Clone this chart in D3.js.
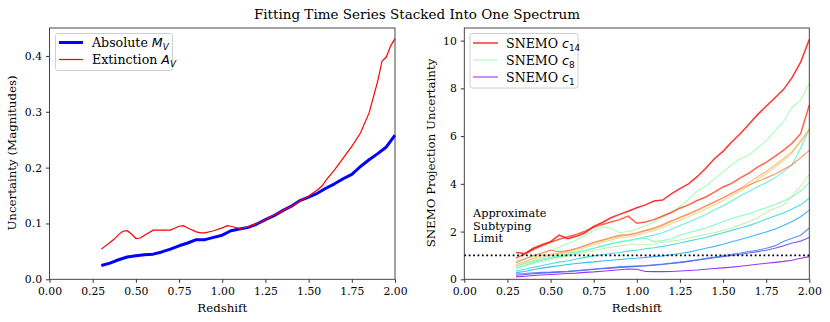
<!DOCTYPE html>
<html>
<head>
<script src="https://d3js.org/d3.v7.min.js"></script>
<style>
  body, html { margin: 0; background: #fff; }
  text { font-family: "DejaVu Serif", serif; fill: #000; }
  .tick text { font-size: 10.8px; }
  .tick line { stroke: #333; }
</style>
</head>
<body>
<div id="chart"></div>
<script>
// ---- left panel data
var zAbs = [0.30,0.35,0.40,0.45,0.50,0.55,0.60,0.65,0.70,0.75,0.80,0.85,0.90,0.95,1.00,1.05,1.10,1.15,1.20,1.25,
            1.30,1.35,1.40,1.45,1.50,1.55,1.60,1.65,1.70,1.75,1.80,1.85,1.90,1.95,2.00];
var absMV = [0.0246,0.029,0.035,0.040,0.042,0.044,0.045,0.049,0.054,0.060,0.065,0.071,0.071,0.075,0.079,0.087,0.090,0.093,0.099,0.107,
             0.114,0.123,0.131,0.141,0.147,0.154,0.163,0.171,0.180,0.188,0.202,0.214,0.225,0.237,0.258];
var zExt = [0.30,0.35,0.375,0.40,0.425,0.45,0.475,0.50,0.525,0.55,0.60,0.65,0.70,0.75,0.775,0.80,0.85,0.875,0.90,0.95,
            1.00,1.03,1.05,1.10,1.15,1.20,1.25,1.30,1.35,1.40,1.45,1.50,1.55,1.575,1.60,1.65,1.70,1.75,1.80,1.85,
            1.90,1.925,1.95,1.975,2.00];
var extAV = [0.054,0.066,0.072,0.080,0.086,0.087,0.081,0.073,0.074,0.079,0.088,0.088,0.088,0.095,0.096,0.092,0.085,0.083,0.083,0.087,
             0.092,0.096,0.095,0.091,0.094,0.100,0.107,0.115,0.123,0.131,0.140,0.149,0.160,0.166,0.177,0.196,0.217,0.238,0.262,0.298,
             0.355,0.391,0.398,0.418,0.431];
var leftXTicks = [0,0.25,0.5,0.75,1,1.25,1.5,1.75,2];
var leftYTicks = [0,0.1,0.2,0.3,0.4];

// ---- right panel data (SNEMO c1 .. c14)
var zSn = zAbs;
var snemo = [
  [0.10,0.13,0.16,0.18,0.20,0.22,0.24,0.26,0.29,0.31,0.34,0.37,0.40,0.43,0.42,0.33,0.32,0.32,0.33,0.35,
   0.37,0.39,0.42,0.45,0.48,0.51,0.55,0.59,0.63,0.67,0.71,0.75,0.80,0.88,0.95],
  [0.17,0.20,0.23,0.26,0.28,0.30,0.32,0.35,0.38,0.41,0.44,0.47,0.50,0.52,0.54,0.56,0.59,0.62,0.66,0.70,
   0.75,0.80,0.85,0.90,0.95,1.00,1.05,1.10,1.16,1.22,1.30,1.40,1.52,1.60,1.75],
  [0.22,0.24,0.27,0.29,0.30,0.32,0.34,0.37,0.40,0.43,0.46,0.49,0.52,0.54,0.56,0.58,0.61,0.64,0.68,0.72,
   0.77,0.82,0.88,0.93,0.99,1.05,1.10,1.16,1.22,1.30,1.40,1.58,1.72,1.85,2.15],
  [0.28,0.33,0.40,0.47,0.52,0.57,0.62,0.66,0.70,0.73,0.77,0.80,0.83,0.86,0.88,0.92,0.95,0.98,1.03,1.08,
   1.14,1.22,1.30,1.38,1.47,1.57,1.67,1.77,1.88,1.98,2.10,2.25,2.42,2.62,2.90],
  [0.35,0.42,0.50,0.58,0.65,0.72,0.78,0.85,0.92,0.98,1.03,1.08,1.12,1.18,1.22,1.28,1.32,1.38,1.45,1.52,
   1.60,1.68,1.75,1.85,1.95,2.05,2.15,2.25,2.38,2.52,2.65,2.78,2.95,3.12,3.40],
  [0.48,0.58,0.70,0.80,0.88,0.95,1.02,1.10,1.20,1.30,1.40,1.48,1.56,1.62,1.70,1.78,1.85,1.95,2.10,2.25,
   2.40,2.55,2.72,2.90,3.08,3.28,3.50,3.68,3.88,4.05,4.25,4.50,4.80,5.50,6.30],
  [0.55,0.65,0.75,0.85,0.92,1.00,1.08,1.15,1.22,1.30,1.40,1.50,1.58,1.62,1.68,1.72,1.58,1.62,1.70,1.85,
   1.95,2.05,2.15,2.28,2.42,2.55,2.65,2.75,2.88,3.00,3.12,3.28,3.45,3.70,4.05],
  [0.75,0.85,0.95,1.05,1.20,1.35,1.50,1.65,1.85,2.05,2.20,2.15,1.95,2.00,2.10,2.25,2.40,2.60,2.80,3.05,
   3.35,3.70,3.90,4.20,4.50,4.80,5.05,5.20,5.50,5.80,6.20,6.60,7.20,7.50,8.20],
  [0.45,0.55,0.65,0.75,0.82,0.90,0.98,1.05,1.12,1.20,1.28,1.35,1.40,1.45,1.45,1.45,1.48,1.55,1.60,1.65,
   1.72,1.80,1.88,1.95,2.05,2.15,2.28,2.42,2.58,2.80,2.98,3.10,3.50,3.90,4.40],
  [0.56,0.68,0.80,0.92,1.00,1.05,1.12,1.22,1.33,1.45,1.55,1.65,1.73,1.78,1.85,1.95,2.05,2.18,2.33,2.48,
   2.62,2.78,2.95,3.12,3.30,3.50,3.70,3.92,4.18,4.42,4.68,4.95,5.30,5.75,6.25],
  [0.62,0.75,0.88,1.00,1.05,1.10,1.18,1.28,1.40,1.52,1.62,1.72,1.80,1.85,1.92,2.02,2.12,2.25,2.42,2.58,
   2.72,2.88,3.05,3.22,3.42,3.62,3.82,4.05,4.30,4.52,4.78,5.05,5.35,5.80,6.30],
  [0.70,0.85,1.00,1.10,1.22,1.15,1.20,1.30,1.42,1.55,1.65,1.75,1.85,1.88,1.95,2.05,2.15,2.30,2.45,2.60,
   2.75,2.90,3.08,3.25,3.42,3.60,3.78,3.95,4.10,4.25,4.40,4.60,4.80,5.10,5.40],
  [0.90,1.05,1.25,1.40,1.55,1.68,1.78,1.88,2.02,2.18,2.30,2.40,2.50,2.65,2.35,2.40,2.50,2.65,2.80,2.98,
   3.12,3.30,3.45,3.65,3.87,4.02,4.25,4.45,4.70,4.90,5.15,5.40,5.70,6.10,7.30],
  [1.12,1.08,1.30,1.45,1.58,1.85,1.70,1.80,1.95,2.22,2.38,2.58,2.72,2.85,3.00,3.12,3.28,3.32,3.58,3.80,
   4.00,4.30,4.65,5.05,5.36,5.75,6.10,6.50,6.90,7.25,7.60,7.95,8.45,9.10,10.05]
];
var legendIdx = [14, 8, 1];
var rightYTicks = [0,2,4,6,8,10];
var subtypingLimit = 1;

// matplotlib "rainbow" colormap
function rainbow(t) {
  var r = Math.min(1, Math.abs(2 * t - 0.5)),
      g = Math.sin(Math.PI * t),
      b = Math.cos(Math.PI / 2 * t);
  return d3.rgb(r * 255, g * 255, b * 255).toString();
}
function snColor(k) { return rainbow((k - 1) / 13); }

var svg = d3.select("#chart").append("svg").attr("width", 830).attr("height", 322);

svg.append("text").attr("x", 417).attr("y", 19).attr("text-anchor", "middle")
  .style("font-size", "13.5px").text("Fitting Time Series Stacked Into One Spectrum");

var yTop = 28, yBottom = 279.3;

function panel(x0, x1, ymax, yTicks, yFmt) {
  var g = svg.append("g");
  var x = d3.scaleLinear().domain([0, 2]).range([x0, x1]);
  var y = d3.scaleLinear().domain([0, ymax]).range([yBottom, yTop]);
  g.append("g").attr("transform", "translate(0," + yBottom + ")")
    .call(d3.axisBottom(x).tickValues(leftXTicks).tickFormat(d3.format(".2f")).tickSize(3.5).tickPadding(4.5))
    .call(function(a) { a.select(".domain").remove(); });
  g.append("g").attr("transform", "translate(" + x0 + ",0)")
    .call(d3.axisLeft(y).tickValues(yTicks).tickFormat(yFmt).tickSize(3.5).tickPadding(4))
    .call(function(a) { a.select(".domain").remove(); });
  g.selectAll(".tick text").attr("fill", "#000");
  var plot = g.append("g");
  g.append("rect").attr("x", x0).attr("y", yTop).attr("width", x1 - x0).attr("height", yBottom - yTop)
    .attr("fill", "none").attr("stroke", "#333").attr("stroke-width", 0.9);
  g.append("text").attr("x", (x0 + x1) / 2).attr("y", 311.5).attr("text-anchor", "middle")
    .style("font-size", "11.8px").text("Redshift");
  return { x: x, y: y, plot: plot, g: g };
}

function mathLabel(sel, plain, sym, sub, subItalic) {
  sel.append("tspan").text(plain);
  sel.append("tspan").style("font-family", "DejaVu Sans").style("font-style", "italic").text(sym);
  sel.append("tspan").style("font-family", "DejaVu Sans").style("font-style", subItalic ? "italic" : "normal")
    .style("font-size", "8.8px").attr("dy", 3).text(sub);
}

// ---- left panel
var L = panel(49.5, 395, 0.45, leftYTicks, d3.format(".1f"));
var lineAbs = d3.line().x(function(d, i) { return L.x(zAbs[i]); }).y(function(d) { return L.y(d); });
var lineExt = d3.line().x(function(d, i) { return L.x(zExt[i]); }).y(function(d) { return L.y(d); });
L.plot.append("path").attr("d", lineAbs(absMV)).attr("fill", "none").attr("stroke", "#0000ff")
  .attr("stroke-width", 3).attr("stroke-linejoin", "round");
L.plot.append("path").attr("d", lineExt(extAV)).attr("fill", "none").attr("stroke", "#ff0000")
  .attr("stroke-width", 1.2);
svg.append("text").attr("transform", "translate(16,153) rotate(-90)").attr("text-anchor", "middle")
  .style("font-size", "11.8px").text("Uncertainty (Magnitudes)");

var lg = svg.append("g");
lg.append("rect").attr("x", 55.5).attr("y", 33.5).attr("width", 117).attr("height", 37).attr("rx", 2)
  .attr("fill", "#fff").attr("fill-opacity", 0.8).attr("stroke", "#d0d0d0");
lg.append("line").attr("x1", 59).attr("x2", 83).attr("y1", 42.5).attr("y2", 42.5)
  .attr("stroke", "#0000ff").attr("stroke-width", 3);
lg.append("line").attr("x1", 59).attr("x2", 83).attr("y1", 59.5).attr("y2", 59.5)
  .attr("stroke", "#ff0000").attr("stroke-width", 1.2);
mathLabel(lg.append("text").attr("x", 92).attr("y", 46.5).style("font-size", "12.6px"), "Absolute ", "M", "V", true);
mathLabel(lg.append("text").attr("x", 92).attr("y", 63.5).style("font-size", "12.6px"), "Extinction ", "A", "V", true);

// ---- right panel
var R = panel(464.3, 809.3, 10.53, rightYTicks, d3.format("d"));
var lineSn = d3.line().x(function(d, i) { return R.x(zSn[i]); }).y(function(d) { return R.y(d); });
R.plot.selectAll("path.sn").data(snemo).enter().append("path").attr("class", "sn")
  .attr("d", function(d) { return lineSn(d); })
  .attr("fill", "none")
  .attr("stroke", function(d, i) { return snColor(i + 1); })
  .attr("stroke-opacity", 0.8)
  .attr("stroke-width", function(d, i) { return i >= 12 ? 1.5 : 1.1; });
R.plot.append("line").attr("x1", R.x(0)).attr("x2", R.x(2))
  .attr("y1", R.y(subtypingLimit)).attr("y2", R.y(subtypingLimit))
  .attr("stroke", "#000").attr("stroke-width", 1.8).attr("stroke-dasharray", "1.8,2.6");
svg.append("text").attr("transform", "translate(435,153) rotate(-90)").attr("text-anchor", "middle")
  .style("font-size", "11.8px").text("SNEMO Projection Uncertainty");

var lim = svg.append("text").attr("x", 473).attr("y", 217).style("font-size", "11.3px");
["Approximate", "Subtyping", "Limit"].forEach(function(s, i) {
  lim.append("tspan").attr("x", 473).attr("dy", i ? 12.5 : 0).text(s);
});

var rg = svg.append("g");
rg.append("rect").attr("x", 470).attr("y", 33.5).attr("width", 108).attr("height", 54.5).attr("rx", 2)
  .attr("fill", "#fff").attr("fill-opacity", 0.8).attr("stroke", "#d0d0d0");
legendIdx.forEach(function(k, i) {
  var yy = 43 + i * 17;
  rg.append("line").attr("x1", 473).attr("x2", 498).attr("y1", yy).attr("y2", yy)
    .attr("stroke", snColor(k)).attr("stroke-opacity", 0.8).attr("stroke-width", k >= 13 ? 1.5 : 1.1);
  mathLabel(rg.append("text").attr("x", 506).attr("y", yy + 4.5).style("font-size", "12.6px"), "SNEMO ", "c", String(k), false);
});
</script>
</body>
</html>
